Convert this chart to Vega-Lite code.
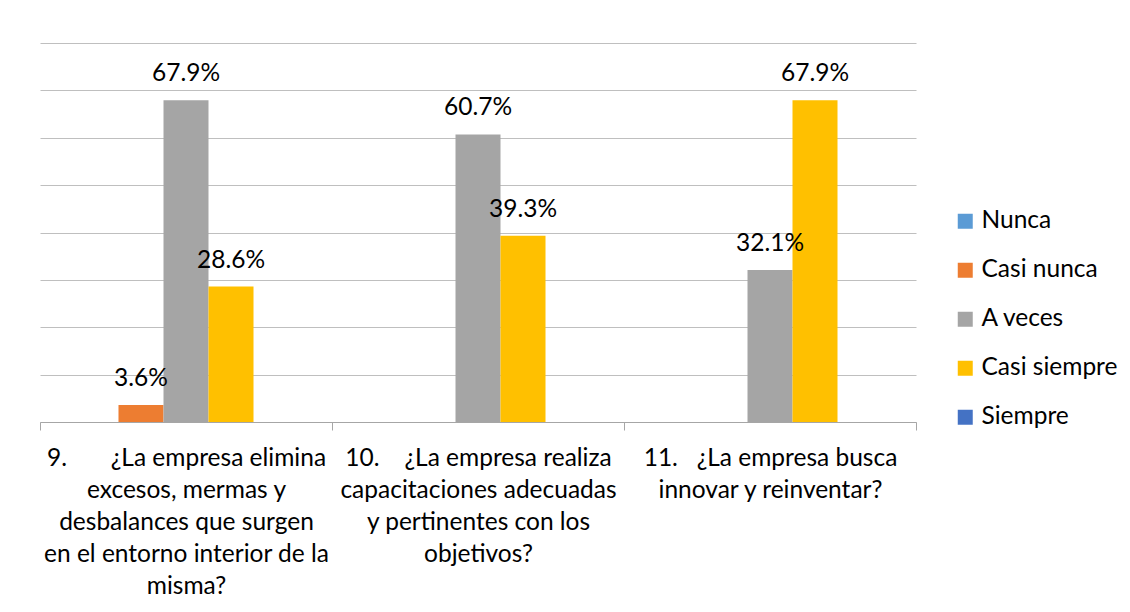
{
  "$schema": "https://vega.github.io/schema/vega-lite/v6.json",
  "width": 876,
  "height": 379,
  "autosize": {"type": "none"},
  "padding": {"left": 40, "top": 43, "right": 214, "bottom": 190},
  "background": "white",
  "config": {
    "view": {"stroke": null},
    "font": "Lato",
    "text": {"font": "Lato"}
  },
  "data": {
    "values": [
      {"pregunta": "9.\u00a0\u00a0\u00a0\u00a0\u00a0\u00a0\u00a0¿La empresa elimina\nexcesos, mermas y\ndesbalances que surgen\nen el entorno interior de la\nmisma?", "respuesta": "Nunca", "valor": 0},
      {"pregunta": "9.\u00a0\u00a0\u00a0\u00a0\u00a0\u00a0\u00a0¿La empresa elimina\nexcesos, mermas y\ndesbalances que surgen\nen el entorno interior de la\nmisma?", "respuesta": "Casi nunca", "valor": 0.036},
      {"pregunta": "9.\u00a0\u00a0\u00a0\u00a0\u00a0\u00a0\u00a0¿La empresa elimina\nexcesos, mermas y\ndesbalances que surgen\nen el entorno interior de la\nmisma?", "respuesta": "A veces", "valor": 0.679},
      {"pregunta": "9.\u00a0\u00a0\u00a0\u00a0\u00a0\u00a0\u00a0¿La empresa elimina\nexcesos, mermas y\ndesbalances que surgen\nen el entorno interior de la\nmisma?", "respuesta": "Casi siempre", "valor": 0.286},
      {"pregunta": "9.\u00a0\u00a0\u00a0\u00a0\u00a0\u00a0\u00a0¿La empresa elimina\nexcesos, mermas y\ndesbalances que surgen\nen el entorno interior de la\nmisma?", "respuesta": "Siempre", "valor": 0},
      {"pregunta": "10.\u00a0\u00a0\u00a0\u00a0¿La empresa realiza\ncapacitaciones adecuadas\ny pertinentes con los\nobjetivos?", "respuesta": "Nunca", "valor": 0},
      {"pregunta": "10.\u00a0\u00a0\u00a0\u00a0¿La empresa realiza\ncapacitaciones adecuadas\ny pertinentes con los\nobjetivos?", "respuesta": "Casi nunca", "valor": 0},
      {"pregunta": "10.\u00a0\u00a0\u00a0\u00a0¿La empresa realiza\ncapacitaciones adecuadas\ny pertinentes con los\nobjetivos?", "respuesta": "A veces", "valor": 0.607},
      {"pregunta": "10.\u00a0\u00a0\u00a0\u00a0¿La empresa realiza\ncapacitaciones adecuadas\ny pertinentes con los\nobjetivos?", "respuesta": "Casi siempre", "valor": 0.393},
      {"pregunta": "10.\u00a0\u00a0\u00a0\u00a0¿La empresa realiza\ncapacitaciones adecuadas\ny pertinentes con los\nobjetivos?", "respuesta": "Siempre", "valor": 0},
      {"pregunta": "11.\u00a0\u00a0\u00a0¿La empresa busca\ninnovar y reinventar?", "respuesta": "Nunca", "valor": 0},
      {"pregunta": "11.\u00a0\u00a0\u00a0¿La empresa busca\ninnovar y reinventar?", "respuesta": "Casi nunca", "valor": 0},
      {"pregunta": "11.\u00a0\u00a0\u00a0¿La empresa busca\ninnovar y reinventar?", "respuesta": "A veces", "valor": 0.321},
      {"pregunta": "11.\u00a0\u00a0\u00a0¿La empresa busca\ninnovar y reinventar?", "respuesta": "Casi siempre", "valor": 0.679},
      {"pregunta": "11.\u00a0\u00a0\u00a0¿La empresa busca\ninnovar y reinventar?", "respuesta": "Siempre", "valor": 0}
    ]
  },
  "encoding": {
    "x": {
      "field": "pregunta",
      "type": "nominal",
      "sort": null,
      "scale": {"paddingInner": 0, "paddingOuter": 0},
      "axis": {
        "title": null,
        "orient": "bottom",
        "labelAngle": 0,
        "labelExpr": "split(datum.label, '\\n')",
        "labelFont": "Lato",
        "labelFontSize": 24.5,
        "labelColor": "#000000",
        "labelLineHeight": 32,
        "labelBaseline": "top",
        "labelPadding": 16,
        "labelOverlap": false,
        "labelBound": false,
        "labelLimit": 0,
        "tickBand": "extent",
        "tickSize": 8,
        "tickColor": "#A6A6A6",
        "domainColor": "#A6A6A6",
        "grid": false
      }
    },
    "xOffset": {
      "field": "respuesta",
      "type": "nominal",
      "sort": ["Nunca", "Casi nunca", "A veces", "Casi siempre", "Siempre"],
      "scale": {"domain": ["Nunca", "Casi nunca", "A veces", "Casi siempre", "Siempre"], "paddingInner": 0, "paddingOuter": 0.744}
    },
    "y": {
      "field": "valor",
      "type": "quantitative",
      "scale": {"domain": [0, 0.8], "nice": false},
      "axis": {
        "title": null,
        "labels": false,
        "ticks": false,
        "domain": false,
        "values": [0, 0.1, 0.2, 0.3, 0.4, 0.5, 0.6, 0.7, 0.8],
        "gridColor": "#BFBFBF",
        "gridWidth": 1
      }
    }
  },
  "layer": [
    {
      "mark": {"type": "bar"},
      "encoding": {
        "color": {
          "field": "respuesta",
          "type": "nominal",
          "sort": ["Nunca", "Casi nunca", "A veces", "Casi siempre", "Siempre"],
          "scale": {
            "domain": ["Nunca", "Casi nunca", "A veces", "Casi siempre", "Siempre"],
            "range": ["#5B9BD5", "#ED7D31", "#A5A5A5", "#FFC000", "#4472C4"]
          },
          "legend": {
            "title": null,
            "orient": "none",
            "legendX": 913,
            "legendY": 166,
            "padding": 0,
            "symbolType": "square",
            "symbolSize": 225,
            "symbolStrokeWidth": 0,
            "symbolOpacity": 1,
            "labelFont": "Lato",
            "labelFontSize": 24.5,
            "labelColor": "#000000",
            "labelOffset": 4,
            "rowPadding": 24
          }
        }
      }
    },
    {
      "transform": [{"filter": "datum.valor > 0"}],
      "mark": {"type": "text", "baseline": "alphabetic", "dy": -19, "font": "Lato", "fontSize": 24.5, "color": "#000000"},
      "encoding": {
        "text": {"field": "valor", "type": "quantitative", "format": ".1%"}
      }
    }
  ]
}
